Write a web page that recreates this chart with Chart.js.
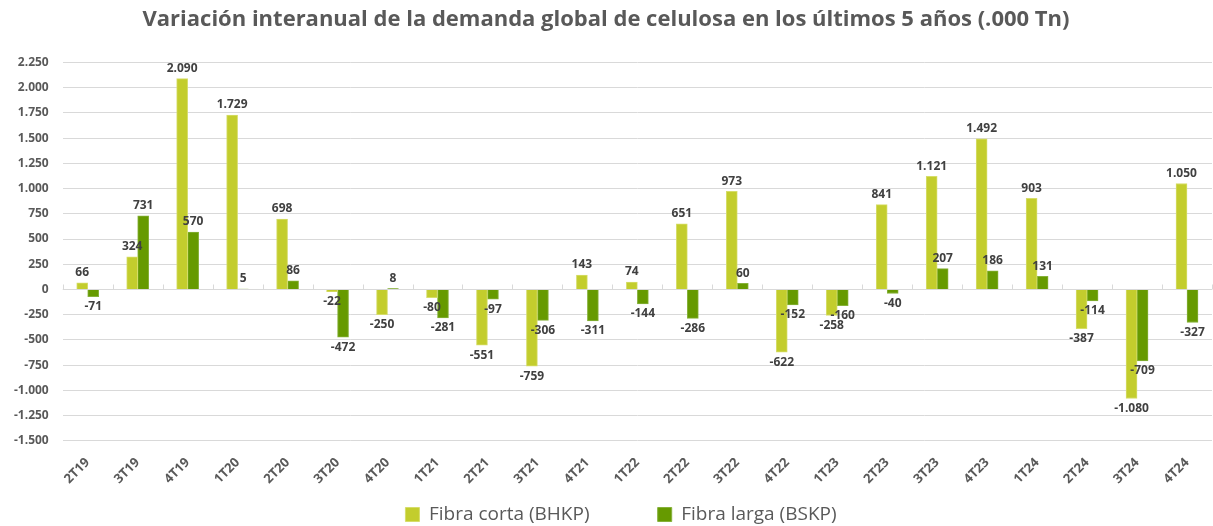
<!DOCTYPE html>
<html>
<head>
<meta charset="utf-8">
<script src="https://cdn.jsdelivr.net/npm/chart.js@4.4.1/dist/chart.umd.min.js"></script>
<style>
  html, body { margin: 0; padding: 0; background: #fff; }
  #wrap { width: 1213px; height: 526px; }
</style>
</head>
<body>
<div id="wrap"><canvas id="chart" width="1213" height="526"></canvas></div>
<script>
var quarters = ['2T19','3T19','4T19','1T20','2T20','3T20','4T20','1T21','2T21','3T21','4T21','1T22',
                '2T22','3T22','4T22','1T23','2T23','3T23','4T23','1T24','2T24','3T24','4T24'];
var fibraCorta = [66, 324, 2090, 1729, 698, -22, -250, -80, -551, -759, 143, 74,
                  651, 973, -622, -258, 841, 1121, 1492, 903, -387, -1080, 1050];
var fibraLarga = [-71, 731, 570, 5, 86, -472, 8, -281, -97, -306, -311, -144,
                  -286, 60, -152, -160, -40, 207, 186, 131, -114, -709, -327];
var yTicks = [-1500, -1250, -1000, -750, -500, -250, 0, 250, 500, 750, 1000, 1250, 1500, 1750, 2000, 2250];

var FONT = "'Open Sans', sans-serif";

function fmt(v) {
    var s = Math.abs(v).toString().replace(/\B(?=(\d{3})+(?!\d))/g, '.');
    return (v < 0 ? '-' : '') + s;
}

// data labels above / below each bar
var labelPlugin = {
    id: 'barLabels',
    afterDatasetsDraw: function(chart) {
        var ctx = chart.ctx;
        ctx.save();
        ctx.font = 'bold 12px ' + FONT;
        ctx.fillStyle = '#404040';
        ctx.textAlign = 'center';
        chart.data.datasets.forEach(function(ds, i) {
            chart.getDatasetMeta(i).data.forEach(function(bar, j) {
                var v = ds.data[j];
                if (v >= 0) {
                    ctx.textBaseline = 'bottom';
                    ctx.fillText(fmt(v), bar.x, bar.y - 4);
                } else {
                    ctx.textBaseline = 'top';
                    ctx.fillText(fmt(v), bar.x, bar.y + 4);
                }
            });
        });
        ctx.restore();
    }
};

// zero line with small tick marks between categories
var zeroAxis = {
    id: 'zeroAxis',
    beforeDatasetsDraw: function(chart) {
        var ctx = chart.ctx, y = chart.scales.y;
        var y0 = Math.round(y.getPixelForValue(0)) + 0.5;
        ctx.save();
        ctx.strokeStyle = '#d9d9d9';
        ctx.lineWidth = 1;
        ctx.beginPath();
        ctx.moveTo(chart.chartArea.left, y0);
        ctx.lineTo(chart.chartArea.right, y0);
        var step = (chart.chartArea.right - chart.chartArea.left) / quarters.length;
        for (var k = 0; k <= quarters.length; k++) {
            var px = Math.round(chart.chartArea.left + k * step) + 0.5;
            ctx.moveTo(px, y0);
            ctx.lineTo(px, y0 - 5);
        }
        ctx.stroke();
        ctx.restore();
    }
};

// nudge the legend a bit right and down, like the original
var legendShift = {
    id: 'legendShift',
    afterLayout: function(chart) {
        var lg = chart.legend;
        lg.left += 15; lg.right += 15;
        lg.top += 8; lg.bottom += 8;
    }
};

new Chart(document.getElementById('chart').getContext('2d'), {
    type: 'bar',
    data: {
        labels: quarters,
        datasets: [{
            label: 'Fibra corta (BHKP)',
            data: fibraCorta,
            backgroundColor: '#c3cd2d',
            borderColor: '#d6dd6a',
            borderWidth: 1,
            barThickness: 11,
            categoryPercentage: 0.68
        }, {
            label: 'Fibra larga (BSKP)',
            data: fibraLarga,
            backgroundColor: '#669a00',
            borderColor: '#86b13a',
            borderWidth: 1,
            barThickness: 11,
            categoryPercentage: 0.68
        }]
    },
    options: {
        responsive: false,
        animation: false,
        layout: { padding: { left: 0, right: 1, top: 0, bottom: 0 } },
        plugins: {
            title: {
                display: true,
                text: 'Variación interanual de la demanda global de celulosa en los últimos 5 años (.000 Tn)',
                color: '#595959',
                font: { family: FONT, size: 22, weight: 'bold' },
                padding: { top: 7, bottom: 29 }
            },
            legend: {
                position: 'bottom',
                labels: {
                    color: '#595959',
                    font: { family: FONT, size: 19 },
                    boxWidth: 14,
                    boxHeight: 14,
                    padding: 4,
                    generateLabels: function(chart) {
                        var items = Chart.defaults.plugins.legend.labels.generateLabels(chart);
                        items[0].text = items[0].text + '             ';
                        return items;
                    }
                }
            },
            tooltip: { enabled: false }
        },
        scales: {
            x: {
                grid: { display: false },
                border: { display: false },
                ticks: {
                    color: '#595959',
                    font: { family: FONT, size: 13, weight: 'bold' },
                    maxRotation: 45,
                    minRotation: 45,
                    autoSkip: false,
                    padding: 6
                }
            },
            y: {
                min: -1500,
                max: 2250,
                afterBuildTicks: function(axis) {
                    axis.ticks = yTicks.map(function(v) { return { value: v }; });
                },
                grid: { color: '#d9d9d9', drawTicks: false },
                border: { display: false },
                ticks: {
                    color: '#595959',
                    font: { family: FONT, size: 12, weight: 'bold' },
                    padding: 14,
                    callback: function(v) { return fmt(v); }
                }
            }
        }
    },
    plugins: [zeroAxis, labelPlugin, legendShift]
});
</script>
</body>
</html>
